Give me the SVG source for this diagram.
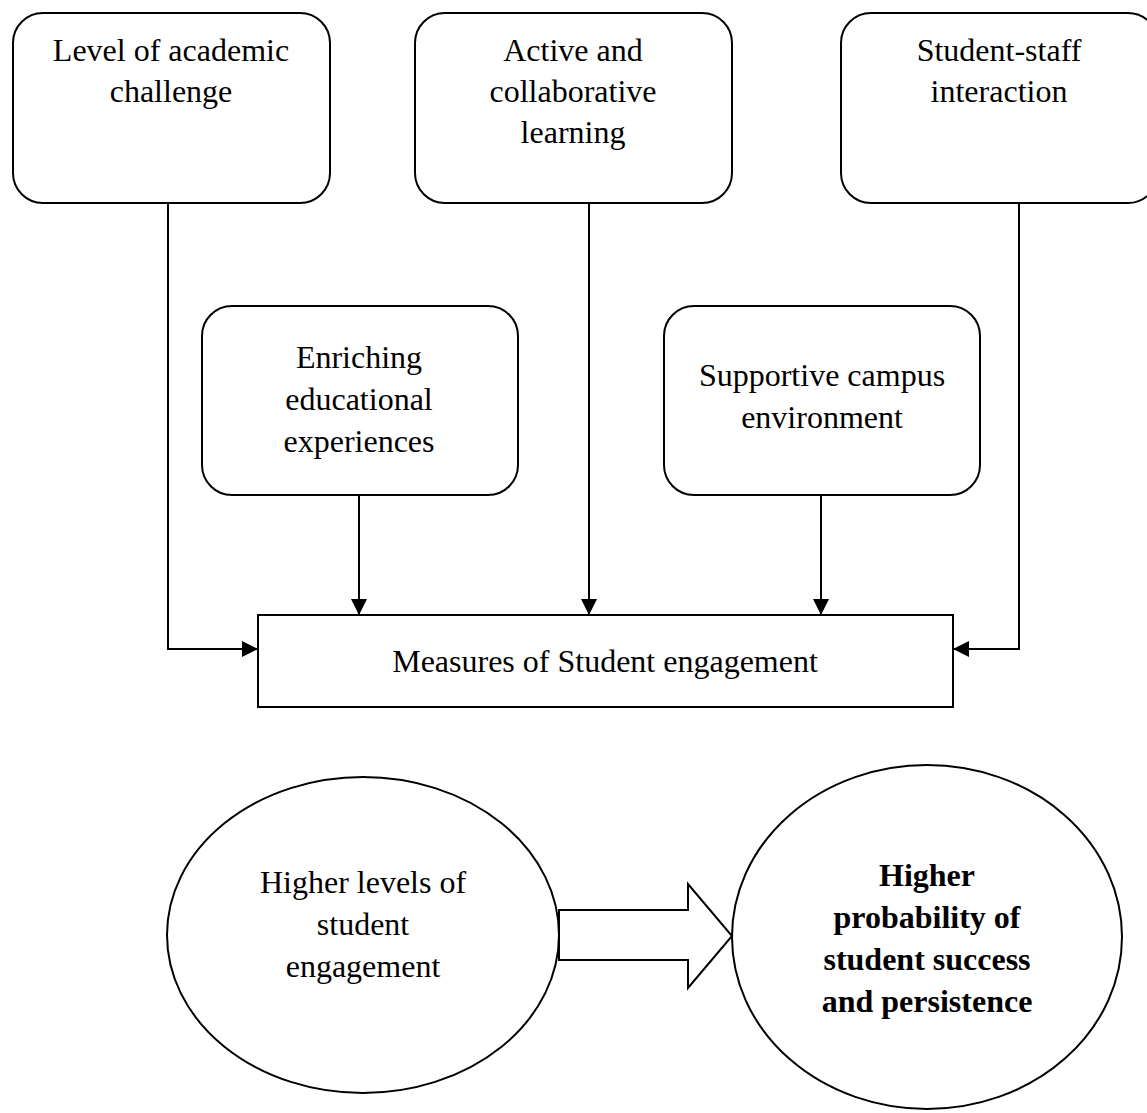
<svg xmlns="http://www.w3.org/2000/svg" width="1147" height="1113" viewBox="0 0 1147 1113">
  <style>
    .box { fill: #ffffff; stroke: #000000; stroke-width: 2; }
    .lbl { font-family: "Liberation Serif", "Times New Roman", serif; font-size: 32px; fill: #000000; text-anchor: middle; }
    .bold { font-weight: bold; }
    .wire { fill: none; stroke: #000000; stroke-width: 2; }
  </style>
  <defs>
    <marker id="head" markerUnits="userSpaceOnUse" markerWidth="16" markerHeight="16" viewBox="0 0 16 16" refX="16" refY="8" orient="auto">
      <path d="M0,0 L16,8 L0,16 Z" fill="#000000"/>
    </marker>
  </defs>

  <rect width="1147" height="1113" fill="#ffffff"/>

  <!-- top row of engagement indicators -->
  <g id="academic-challenge">
    <rect class="box" x="13" y="13" width="317" height="190" rx="30" ry="30"/>
    <text class="lbl" x="171" y="61">Level of academic</text>
    <text class="lbl" x="171" y="102">challenge</text>
  </g>
  <g id="active-learning">
    <rect class="box" x="415" y="13" width="317" height="190" rx="30" ry="30"/>
    <text class="lbl" x="573" y="61">Active and</text>
    <text class="lbl" x="573" y="102">collaborative</text>
    <text class="lbl" x="573" y="143">learning</text>
  </g>
  <g id="student-staff">
    <rect class="box" x="841" y="13" width="317" height="190" rx="30" ry="30"/>
    <text class="lbl" x="999" y="61">Student-staff</text>
    <text class="lbl" x="999" y="102">interaction</text>
  </g>

  <!-- middle row -->
  <g id="enriching-experiences">
    <rect class="box" x="202" y="306" width="316" height="189" rx="30" ry="30"/>
    <text class="lbl" x="359" y="368">Enriching</text>
    <text class="lbl" x="359" y="410">educational</text>
    <text class="lbl" x="359" y="452">experiences</text>
  </g>
  <g id="supportive-campus">
    <rect class="box" x="664" y="306" width="316" height="189" rx="30" ry="30"/>
    <text class="lbl" x="822" y="386">Supportive campus</text>
    <text class="lbl" x="822" y="428">environment</text>
  </g>

  <!-- aggregate measure -->
  <g id="measures">
    <rect class="box" x="258" y="615" width="695" height="92"/>
    <text class="lbl" x="605" y="672">Measures of Student engagement</text>
  </g>

  <!-- outcome ellipses -->
  <g id="higher-engagement">
    <ellipse class="box" cx="363" cy="935" rx="196" ry="158"/>
    <text class="lbl" x="363" y="893">Higher levels of</text>
    <text class="lbl" x="363" y="935">student</text>
    <text class="lbl" x="363" y="977">engagement</text>
  </g>
  <g id="student-success">
    <ellipse class="box" cx="927" cy="937" rx="195" ry="172"/>
    <text class="lbl bold" x="927" y="886">Higher</text>
    <text class="lbl bold" x="927" y="928">probability of</text>
    <text class="lbl bold" x="927" y="970">student success</text>
    <text class="lbl bold" x="927" y="1012">and persistence</text>
  </g>

  <!-- connectors -->
  <g id="connectors">
    <path class="wire" d="M168,203 V649 H258" marker-end="url(#head)"/>
    <path class="wire" d="M1019,203 V649 H953" marker-end="url(#head)"/>
    <path class="wire" d="M589,203 V615" marker-end="url(#head)"/>
    <path class="wire" d="M359,495 V615" marker-end="url(#head)"/>
    <path class="wire" d="M821,495 V615" marker-end="url(#head)"/>
    <path class="box" d="M559,910 H688 V884 L732,936 L688,988 V960 H559 Z"/>
  </g>
</svg>
